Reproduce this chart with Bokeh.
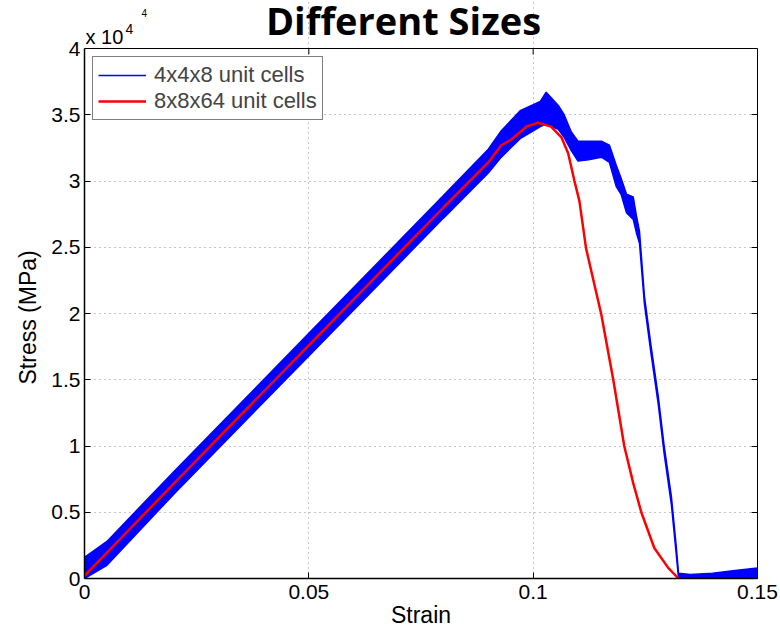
from bokeh.plotting import figure
from bokeh.models import (FixedTicker, LinearAxis, Label, Legend, LegendItem,
                          Range1d, ColumnDataSource, Span, Title)
from bokeh.embed import file_html
from bokeh.resources import INLINE

# ---------------- data (strain, stress in MPa) ----------------
red_strain = [0.0, 0.02, 0.05, 0.08, 0.09, 0.0929, 0.095, 0.0985, 0.1011, 0.1040,
              0.1063, 0.1078, 0.1092, 0.1103, 0.1118, 0.1152, 0.1179, 0.1203,
              0.1223, 0.1241, 0.1270, 0.1301, 0.1324]
red_stress = [200, 7200, 17600, 28000, 31400, 32700, 33100, 34100, 34400, 34100,
              33300, 32100, 30000, 28500, 24900, 19900, 14900, 10000,
              7200, 5000, 2300, 800, 0]

blue_strain = [0.0, 0.005, 0.02, 0.05, 0.08, 0.09, 0.0929, 0.0971, 0.1016, 0.1029,
               0.1056, 0.1069, 0.1085, 0.1100, 0.1123, 0.1152, 0.1170, 0.1185,
               0.1196, 0.1208, 0.1223, 0.1230, 0.1237, 0.1248, 0.1263, 0.1279,
               0.1292, 0.1308, 0.1319, 0.1324, 0.1350, 0.1400, 0.1450, 0.1500]
blue_low = [0, 1000, 6400, 16800, 27200, 30600, 31800, 33200, 34100, 34300,
            33900, 33300, 32300, 31500, 31600, 31800, 31400, 29600,
            29000, 27600, 27100, 26100, 25300, 20700, 16900, 13100,
            9400, 5600, 1800, 0, 0, 0, 0, 0]
blue_high = [1600, 2800, 8100, 18500, 28900, 32400, 33800, 35300, 36000, 36700,
             35700, 35000, 33700, 33000, 33000, 33000, 32700, 31200,
             30200, 29000, 28800, 27400, 26200, 21300, 17500, 13700,
             10000, 6200, 2400, 400, 300, 400, 600, 800]

series_labels = ["4x4x8 unit cells", "8x8x64 unit cells"]

x_ticks = [0, 0.05, 0.1, 0.15]
x_tick_labels = ["0", "0.05", "0.1", "0.15"]
y_ticks = [0, 5000, 10000, 15000, 20000, 25000, 30000, 35000, 40000]
y_tick_labels = ["0", "0.5", "1", "1.5", "2", "2.5", "3", "3.5", "4"]

title_text = "Different Sizes"
x_label = "Strain"
y_label = "Stress (MPa)"
multiplier_text = "x 10"
multiplier_exp = "4"

FONT = "Liberation Sans"
X_MIN, X_MAX = 0, 0.15
Y_MIN, Y_MAX = 0, 40000

# The frame reaches the top of the canvas so that the title area above the
# axes box is part of it; axis lines and grid stop at the data limits.
FRAME_TOP_PX, BOX_TOP_PX, BOX_BOTTOM_PX = 0, 48, 578
BOX_LEFT_PX, BOX_RIGHT_PX = 84, 757
mpa_per_px = (Y_MAX - Y_MIN) / (BOX_BOTTOM_PX - BOX_TOP_PX)
y_top = Y_MAX + (BOX_TOP_PX - FRAME_TOP_PX) * mpa_per_px

p = figure(width=780, height=634, x_range=Range1d(X_MIN, X_MAX), y_range=Range1d(Y_MIN, y_top),
           output_backend="svg", toolbar_location=None,
           min_border_left=BOX_LEFT_PX, min_border_right=780 - BOX_RIGHT_PX,
           min_border_top=0, min_border_bottom=634 - BOX_BOTTOM_PX)
p.background_fill_color = "white"
p.border_fill_color = "white"
p.outline_line_color = None

blue_src = ColumnDataSource(dict(x=blue_strain, lo=blue_low, hi=blue_high))
red_src = ColumnDataSource(dict(x=red_strain, y=red_stress))

p.varea(x="x", y1="lo", y2="hi", source=blue_src, fill_color="#0000FF", fill_alpha=1.0)
blue_hi_line = p.line(x="x", y="hi", source=blue_src, line_color="#0000FF", line_width=1.5)
p.line(x="x", y="lo", source=blue_src, line_color="#0000FF", line_width=1.5)
red_line = p.line(x="x", y="y", source=red_src, line_color="#FF0000", line_width=2.5)

for ax in p.xaxis:
    ax.ticker = FixedTicker(ticks=x_ticks)
    ax.major_label_overrides = {t: s for t, s in zip(x_ticks, x_tick_labels)}
    ax.major_label_standoff = 6
    ax.axis_label = x_label
    ax.axis_label_standoff = 0
    ax.axis_label_text_font_size = "23px"
for ax in p.yaxis:
    ax.ticker = FixedTicker(ticks=y_ticks)
    ax.major_label_overrides = {t: s for t, s in zip(y_ticks, y_tick_labels)}
    ax.major_label_standoff = 4
    ax.bounds = (Y_MIN, Y_MAX)

for ax in list(p.xaxis) + list(p.yaxis):
    ax.axis_line_color = "black"
    ax.axis_line_width = 1.5
    ax.major_tick_in = 6
    ax.major_tick_out = 0
    ax.minor_tick_out = 0
    ax.major_tick_line_color = "black"
    ax.minor_tick_line_color = None
    ax.major_label_text_font = FONT
    ax.major_label_text_font_size = "21px"
    ax.major_label_text_color = "black"
    ax.axis_label_text_font = FONT
    ax.axis_label_text_font_style = "normal"
    ax.axis_label_text_color = "black"

# y-axis title: starts near the bottom of the axes box and reads upward,
# placed so that it is centred on the box (not on the taller frame)
y_label_start_px = 384
p.add_layout(Title(text=y_label, align="left", offset=BOX_BOTTOM_PX - y_label_start_px,
                   standoff=15, text_font=FONT, text_font_size="23px",
                   text_font_style="normal", text_color="black"), "left")

right_ax = LinearAxis(ticker=FixedTicker(ticks=y_ticks), major_label_text_font_size="0px",
                      major_tick_in=6, major_tick_out=0, minor_tick_out=0,
                      minor_tick_line_color=None, major_label_standoff=0,
                      axis_line_color="black", bounds=(Y_MIN, Y_MAX))
p.add_layout(right_ax, "right")

# top edge of the axes box and its inward ticks
p.add_layout(Span(location=Y_MAX, dimension="width", line_color="black", line_width=1.2))
tick_len = 6 * mpa_per_px
p.segment(x0=x_ticks, y0=[Y_MAX] * len(x_ticks), x1=x_ticks,
          y1=[Y_MAX - tick_len] * len(x_ticks), line_color="black", line_width=1)

p.xgrid.ticker = FixedTicker(ticks=x_ticks)
p.ygrid.ticker = FixedTicker(ticks=y_ticks[:-1])
p.xgrid.bounds = (Y_MIN, Y_MAX)
for g in (p.xgrid, p.ygrid):
    g.grid_line_color = "#8c8c8c"
    g.grid_line_dash = "1 4"
    g.grid_line_width = 1

legend = Legend(items=[LegendItem(label=series_labels[0], renderers=[blue_hi_line]),
                       LegendItem(label=series_labels[1], renderers=[red_line])],
                location=(8, BOX_BOTTOM_PX - 120), padding=5, spacing=0,
                glyph_width=48, glyph_height=26, label_height=26, label_standoff=8,
                label_text_font=FONT, label_text_font_size="22px",
                border_line_color="black", border_line_width=1,
                background_fill_color="white", background_fill_alpha=1.0)
p.add_layout(legend)

# texts above the axes box, positioned in pixels (vertical centre of each text)
def px_x(c):
    return X_MIN + (c - BOX_LEFT_PX) / (BOX_RIGHT_PX - BOX_LEFT_PX) * (X_MAX - X_MIN)

def px_y(r):
    return Y_MIN + (BOX_BOTTOM_PX - r) * mpa_per_px

p.add_layout(Label(x=px_x(403), y=px_y(19), text=title_text, text_align="center",
                   text_baseline="middle", text_font="Open Sans",
                   text_font_style="bold", text_font_size="38px", text_color="black"))
p.add_layout(Label(x=px_x(85), y=px_y(36), text=multiplier_text, text_align="left",
                   text_baseline="middle", text_font=FONT,
                   text_font_size="20px", text_color="black"))
p.add_layout(Label(x=px_x(125), y=px_y(28), text=multiplier_exp, text_align="left",
                   text_baseline="middle", text_font=FONT,
                   text_font_size="14px", text_color="black"))
p.add_layout(Label(x=px_x(141), y=px_y(12), text=multiplier_exp, text_align="left",
                   text_baseline="middle", text_font=FONT,
                   text_font_size="10px", text_color="black"))

open("out.html", "w").write(file_html(p, INLINE))
